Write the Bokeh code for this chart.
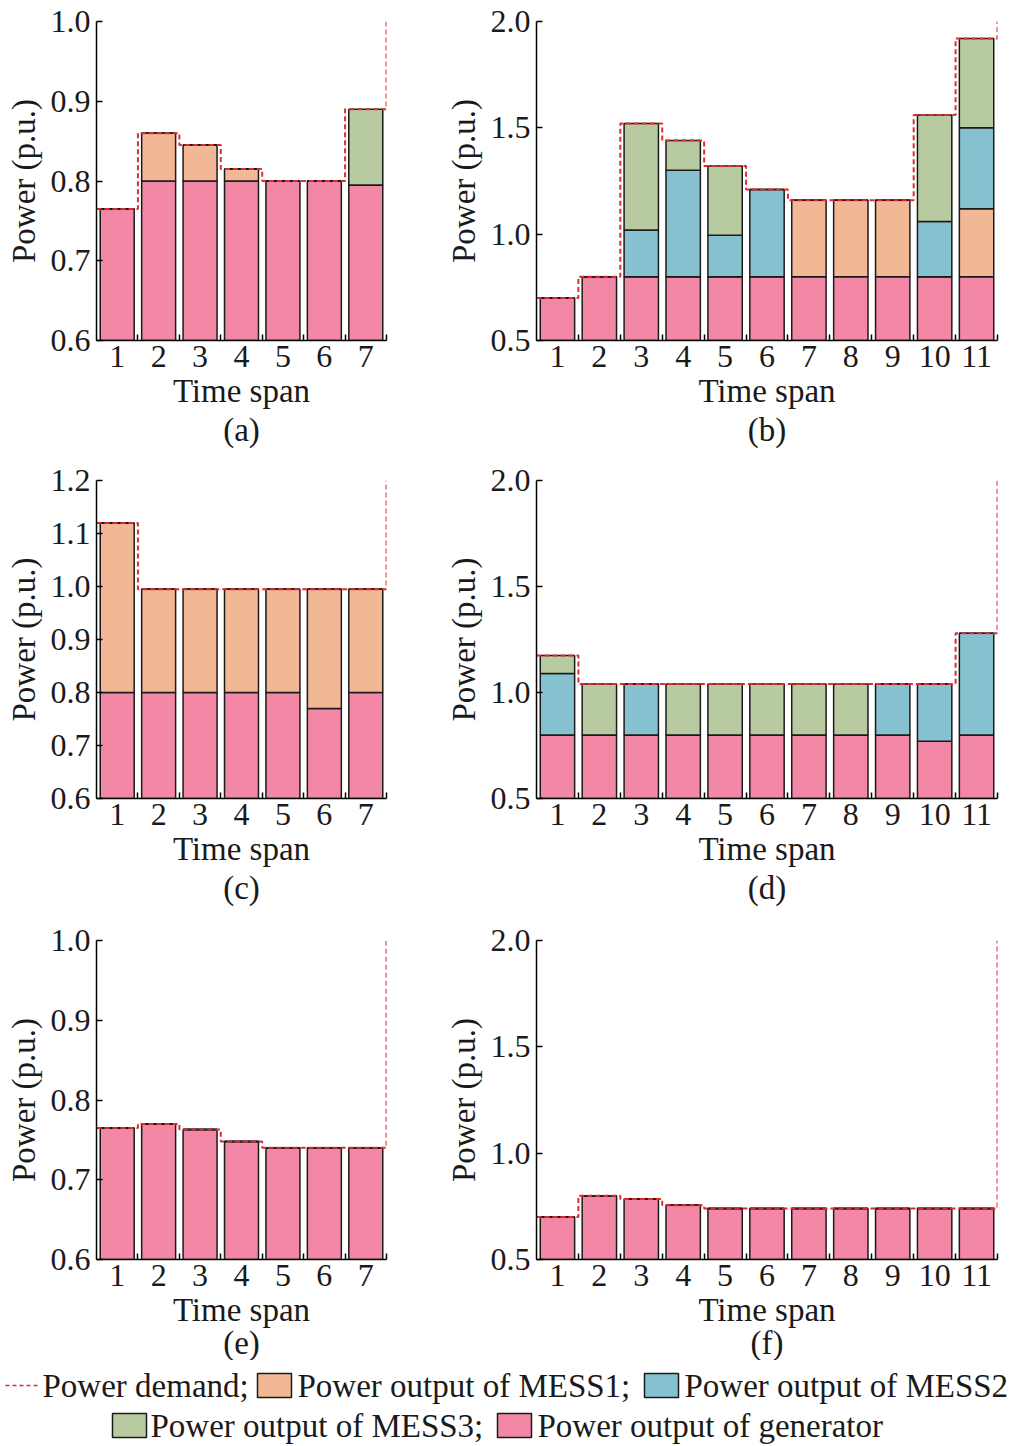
from bokeh.plotting import figure
from bokeh.layouts import column, row
from bokeh.models import FixedTicker, PrintfTickFormatter, Range1d, Title, ColumnDataSource
from bokeh.core.properties import value
from bokeh.embed import file_html
from bokeh.resources import INLINE

FONT = "Liberation Serif"
PINK = "#f288a6"
ORANGE = "#f2b895"
BLUE = "#86c1cf"
GREEN = "#b8cba0"
RED = "#e02a30"
EDGE = "#1a1a1a"

# (a) 7 time spans
a_gen = [0.765, 0.80, 0.80, 0.80, 0.80, 0.80, 0.795]
a_mess1 = [0, 0.06, 0.045, 0.015, 0, 0, 0]
a_mess2 = [0, 0, 0, 0, 0, 0, 0]
a_mess3 = [0, 0, 0, 0, 0, 0, 0.095]
a_demand = [0.765, 0.86, 0.845, 0.815, 0.80, 0.80, 0.89]
a_yticks = [0.6, 0.7, 0.8, 0.9, 1.0]

# (b) 11 time spans
b_gen = [0.70, 0.80, 0.80, 0.80, 0.80, 0.80, 0.80, 0.80, 0.80, 0.80, 0.80]
b_mess1 = [0, 0, 0, 0, 0, 0, 0.36, 0.36, 0.36, 0, 0.32]
b_mess2 = [0, 0, 0.22, 0.50, 0.195, 0.41, 0, 0, 0, 0.26, 0.38]
b_mess3 = [0, 0, 0.50, 0.14, 0.325, 0, 0, 0, 0, 0.50, 0.42]
b_demand = [0.70, 0.80, 1.52, 1.44, 1.32, 1.21, 1.16, 1.16, 1.16, 1.56, 1.92]
b_yticks = [0.5, 1.0, 1.5, 2.0]

# (c)
c_gen = [0.80, 0.80, 0.80, 0.80, 0.80, 0.77, 0.80]
c_mess1 = [0.32, 0.195, 0.195, 0.195, 0.195, 0.225, 0.195]
c_mess2 = [0, 0, 0, 0, 0, 0, 0]
c_mess3 = [0, 0, 0, 0, 0, 0, 0]
c_demand = [1.12, 0.995, 0.995, 0.995, 0.995, 0.995, 0.995]
c_yticks = [0.6, 0.7, 0.8, 0.9, 1.0, 1.1, 1.2]

# (d)
d_gen = [0.80, 0.80, 0.80, 0.80, 0.80, 0.80, 0.80, 0.80, 0.80, 0.77, 0.80]
d_mess1 = [0, 0, 0, 0, 0, 0, 0, 0, 0, 0, 0]
d_mess2 = [0.29, 0, 0.24, 0, 0, 0, 0, 0, 0.24, 0.27, 0.48]
d_mess3 = [0.085, 0.24, 0, 0.24, 0.24, 0.24, 0.24, 0.24, 0, 0, 0]
d_demand = [1.175, 1.04, 1.04, 1.04, 1.04, 1.04, 1.04, 1.04, 1.04, 1.04, 1.28]
d_yticks = [0.5, 1.0, 1.5, 2.0]

# (e)
e_gen = [0.765, 0.77, 0.763, 0.748, 0.74, 0.74, 0.74]
e_mess1 = [0, 0, 0, 0, 0, 0, 0]
e_mess2 = [0, 0, 0, 0, 0, 0, 0]
e_mess3 = [0, 0, 0, 0, 0, 0, 0]
e_demand = [0.765, 0.77, 0.763, 0.748, 0.74, 0.74, 0.74]
e_yticks = [0.6, 0.7, 0.8, 0.9, 1.0]

# (f)
f_gen = [0.70, 0.80, 0.785, 0.755, 0.74, 0.74, 0.74, 0.74, 0.74, 0.74, 0.74]
f_mess1 = [0] * 11
f_mess2 = [0] * 11
f_mess3 = [0] * 11
f_demand = [0.70, 0.80, 0.785, 0.755, 0.74, 0.74, 0.74, 0.74, 0.74, 0.74, 0.74]
f_yticks = [0.5, 1.0, 1.5, 2.0]

legend_labels = ["Power demand;", "Power output of MESS1;", "Power output of MESS2",
                 "Power output of MESS3;", "Power output of generator"]


def panel(tag, gen, m1, m2, m3, demand, yticks, fw, fh, right, top, bottom, tstand):
    n = len(gen)
    xs = list(range(1, n + 1))
    src = ColumnDataSource(dict(x=xs, gen=gen, m1=m1, m2=m2, m3=m3))
    p = figure(frame_width=fw, frame_height=fh, output_backend="svg", toolbar_location=None,
               x_range=Range1d(0.5, n + 0.5), y_range=Range1d(yticks[0], yticks[-1]),
               min_border_left=96, min_border_right=right, min_border_top=top,
               min_border_bottom=bottom)
    p.vbar_stack(["gen", "m1", "m2", "m3"], x="x", width=0.82, source=src,
                 fill_color=[PINK, ORANGE, BLUE, GREEN], line_color=EDGE, line_width=1.5)

    # stepped demand line, ending with a rise to the top of the axis
    sx, sy = [], []
    for i, d in enumerate(demand):
        sx += [i + 0.5, i + 1.5]
        sy += [d, d]
    sx.append(n + 0.5)
    sy.append(yticks[-1])
    p.line(sx, sy, line_color=RED, line_width=2, line_dash="5 3")

    p.grid.visible = False
    p.outline_line_color = None

    p.xaxis.ticker = FixedTicker(ticks=xs, minor_ticks=[x + 0.5 for x in xs])
    p.yaxis.ticker = FixedTicker(ticks=yticks)
    p.yaxis.formatter = PrintfTickFormatter(format="%.1f")
    for ax in (p.xaxis[0], p.yaxis[0]):
        ax.axis_line_color = "black"
        ax.axis_line_width = 1.5
        ax.major_tick_line_color = "black"
        ax.major_tick_line_width = 1.5
        ax.minor_tick_line_color = "black"
        ax.minor_tick_line_width = 1.5
        ax.major_label_text_font = FONT
        ax.major_label_text_font_size = "32px"
        ax.major_label_text_color = "#1a1a1a"
        ax.axis_label_text_font = FONT
        ax.axis_label_text_font_size = "33px"
        ax.axis_label_text_font_style = "normal"
        ax.axis_label_text_color = "#1a1a1a"
    p.xaxis.major_tick_in = 0
    p.xaxis.major_tick_out = 0
    p.xaxis.minor_tick_in = 6
    p.xaxis.minor_tick_out = 0
    p.xaxis.major_label_standoff = 5
    p.xaxis.axis_label = "Time span"
    p.xaxis.axis_label_standoff = 3
    p.yaxis.major_tick_in = 6
    p.yaxis.major_tick_out = 0
    p.yaxis.minor_tick_in = 0
    p.yaxis.minor_tick_out = 0
    p.yaxis.major_label_standoff = 6
    p.yaxis.axis_label = "Power (p.u.)"
    p.yaxis.axis_label_standoff = 6

    t = Title(text="(" + tag + ")", align="center", text_font=FONT, text_font_size="33px",
              text_font_style="normal", text_color="#1a1a1a", standoff=tstand)
    p.add_layout(t, "below")
    return p


pa = panel("a", a_gen, a_mess1, a_mess2, a_mess3, a_demand, a_yticks, 290, 319, 54, 21, 121, -3)
pb = panel("b", b_gen, b_mess1, b_mess2, b_mess3, b_demand, b_yticks, 461, 319, 17, 21, 121, -3)
pc = panel("c", c_gen, c_mess1, c_mess2, c_mess3, c_demand, c_yticks, 290, 318, 54, 19, 123, -3)
pd = panel("d", d_gen, d_mess1, d_mess2, d_mess3, d_demand, d_yticks, 461, 318, 17, 19, 123, -3)
pe = panel("e", e_gen, e_mess1, e_mess2, e_mess3, e_demand, e_yticks, 290, 319, 54, 19, 101, -15)
pf = panel("f", f_gen, f_mess1, f_mess2, f_mess3, f_demand, f_yticks, 461, 319, 17, 19, 101, -15)

# legend strip (coordinates are screen pixels of the strip)
leg = figure(width=1014, height=86, output_backend="svg", toolbar_location=None,
             x_range=Range1d(0, 1014), y_range=Range1d(0, 86), min_border=0,
             x_axis_location=None, y_axis_location=None)
leg.grid.visible = False
leg.outline_line_color = None
leg.line([5, 40], [61, 61], line_color=RED, line_width=1.6, line_dash="4 3")
leg.rect(x=[274, 661, 129, 514], y=[61, 61, 21, 21], width=34, height=24,
         width_units="screen", height_units="screen",
         fill_color=[ORANGE, BLUE, GREEN, PINK], line_color=EDGE, line_width=1.5)
leg.text(x=[42, 297, 684, 150, 537], y=[61, 61, 61, 21, 21], text=legend_labels,
         text_font=value(FONT), text_font_size="33px", text_baseline="middle",
         text_align="left", text_color="#1a1a1a")

layout = column(row(pa, pb), row(pc, pd), row(pe, pf), leg)
open("out.html", "w").write(file_html(layout, INLINE))
